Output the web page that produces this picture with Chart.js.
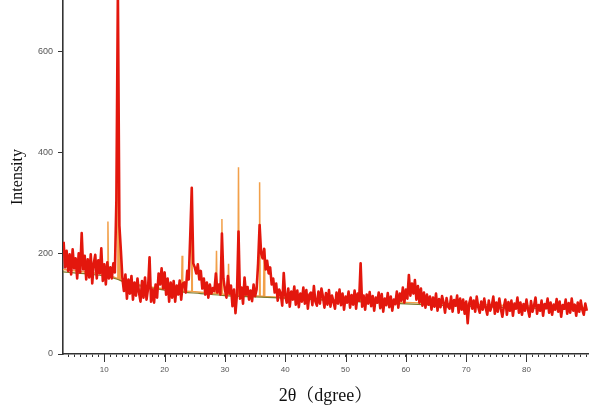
<!DOCTYPE html>
<html lang="en">
<head>
    <meta charset="UTF-8">
    <title>XRD</title>
    <style>
        body { margin: 0; background: #fff; }
        #xrd { display: block; }
    </style>
</head>
<body>
    <canvas id="xrd" width="600" height="411"></canvas>
    <script src="https://cdn.jsdelivr.net/npm/chart.js"></script>
    <script>
        // scan: 2theta from 3.25 in 0.25 steps, one row per degree
        const scanStart = 3.25
        const scanStep = 0.25
        const observed = [
            223, 172, 205, 165,   // 3
            198, 158, 208, 170,   // 4
            190, 150, 200, 162,   // 5
            240, 168, 195, 148,   // 6
            188, 152, 198, 140,   // 7
            180, 197, 150, 186,   // 8
            160, 210, 145, 178,   // 9
            138, 182, 150, 172,   // 10
            150, 180, 162, 306,   // 11
            720, 255, 205, 150,   // 12
            125, 158, 110, 148,   // 13
            120, 155, 108, 142,   // 14
            116, 150, 122, 104,   // 15
            145, 112, 152, 108,   // 16
            130, 192, 104, 128,   // 17
            102, 138, 112, 160,   // 18
            138, 170, 130, 162,   // 19
            118, 150, 104, 142,   // 20
            112, 145, 104, 136,   // 21
            118, 146, 108, 140,   // 22
            142, 122, 165, 148,   // 23
            235, 330, 180, 172,   // 24
            160, 178, 148, 165,   // 25
            130, 150, 118, 142,   // 26
            112, 138, 120, 131,   // 27
            125, 160, 122, 138,   // 28
            118, 239, 150, 128,   // 29
            112, 155, 120, 136,   // 30
            95, 128, 81, 120,     // 31
            243, 110, 132, 100,   // 32
            152, 118, 133, 108,   // 33
            126, 105, 138, 115,   // 34
            128, 180, 256, 200,   // 35
            190, 209, 168, 185,   // 36
            160, 172, 138, 150,   // 37
            122, 140, 106, 128,   // 38
            120, 96, 161, 116,    // 39
            102, 130, 94, 124,    // 40
            108, 134, 98, 126,    // 41
            93, 120, 104, 132,    // 42
            100, 127, 90, 118,    // 43
            122, 97, 135, 104,    // 44
            96, 124, 100, 130,    // 45
            114, 92, 121, 98,     // 46
            127, 94, 116, 104,    // 47
            90, 122, 100, 128,    // 48
            97, 120, 88, 114,     // 49
            102, 124, 92, 117,    // 50
            98, 126, 90, 120,     // 51
            106, 180, 94, 116,    // 52
            88, 118, 100, 123,    // 53
            95, 115, 86, 112,     // 54
            102, 122, 91, 119,    // 55
            84, 110, 97, 121,     // 56
            93, 114, 86, 108,     // 57
            99, 124, 92, 120,     // 58
            106, 132, 102, 128,   // 59
            110, 157, 116, 140,   // 60
            120, 147, 108, 135,   // 61
            102, 130, 96, 122,    // 62
            92, 118, 98, 114,     // 63
            88, 112, 94, 120,     // 64
            86, 109, 93, 115,     // 65
            102, 82, 111, 94,     // 66
            90, 114, 84, 107,     // 67
            96, 116, 82, 110,     // 68
            88, 108, 80, 104,     // 69
            61, 100, 112, 90,     // 70
            106, 84, 114, 93,     // 71
            82, 104, 88, 110,     // 72
            91, 78, 106, 86,      // 73
            96, 114, 80, 102,     // 74
            84, 110, 90, 74,      // 75
            94, 108, 78, 103,     // 76
            86, 106, 76, 100,     // 77
            90, 112, 82, 102,     // 78
            78, 99, 86, 108,      // 79
            88, 74, 105, 84,      // 80
            96, 112, 80, 97,      // 81
            86, 106, 76, 99,      // 82
            91, 110, 82, 102,     // 83
            78, 98, 88, 109,      // 84
            84, 104, 74, 97,      // 85
            90, 108, 80, 101,     // 86
            82, 110, 86, 98,      // 87
            76, 102, 84, 106,     // 88
            88, 78, 100, 86       // 89
        ]

        // calculated pattern (orange): background plus the reflections
        const calcX = [3.15, 10.5, 10.6, 10.7, 12.15, 12.25, 12.35, 12.45, 12.55, 12.65,
            17.4, 17.5, 17.6, 22.8, 22.9, 23.0, 24.4, 24.5, 24.6, 28.5, 28.6, 28.7,
            29.4, 29.5, 29.6, 30.5, 30.6, 30.7, 32.15, 32.25, 32.35, 35.65, 35.75, 35.85,
            36.4, 36.5, 36.6, 40, 52.4, 52.5, 52.6, 90]
        const calcY = [168, 158, 263, 157, 150, 720, 149, 148, 245, 146,
            133, 192, 133, 125, 195, 125, 124, 330, 124, 120, 205, 120,
            119, 268, 119, 118, 179, 118, 116, 371, 116, 115, 341, 115,
            114, 209, 114, 112, 105, 180, 105, 92]

        // background (olive)
        const bgX = [3.15, 5, 8, 10, 12, 14, 16, 19, 22, 26, 30, 34, 38, 45, 55, 65, 75, 90]
        const bgY = [163, 161, 158, 155, 149, 140, 135, 129, 124, 120, 116, 114, 112, 108, 102, 97, 93, 88]

        const yTicks = [0, 200, 400, 600]
        const xMajor = [10, 20, 30, 40, 50, 60, 70, 80]

        const pts = (xs, ys) => ys.map((y, i) => ({ x: xs[i], y: y }))
        const scanX = observed.map((_, i) => scanStart + i * scanStep)

        const majorTicks = {
            id: 'majorTicks',
            afterDraw(chart) {
                const sx = chart.scales.x
                const c = chart.ctx
                c.save()
                c.strokeStyle = '#333'
                c.lineWidth = 1
                xMajor.forEach(v => {
                    const px = Math.round(sx.getPixelForValue(v)) + 0.5
                    c.beginPath()
                    c.moveTo(px, sx.top)
                    c.lineTo(px, sx.top + 8)
                    c.stroke()
                })
                c.restore()
            }
        }

        const tickFont = { family: "'Liberation Sans', Arial, sans-serif", size: 8 }
        const titleFont = "'Liberation Serif', 'Times New Roman', 'Noto Serif CJK SC', 'Noto Sans CJK SC', serif"

        new Chart(document.getElementById('xrd'), {
            type: 'line',
            data: {
                datasets: [
                    {
                        label: 'obs',
                        data: pts(scanX, observed),
                        borderColor: '#e3170d',
                        borderWidth: 2.6,
                        borderJoinStyle: 'round',
                        pointRadius: 0,
                        tension: 0
                    },
                    {
                        label: 'bg',
                        data: pts(bgX, bgY),
                        borderColor: '#7d7a2a',
                        borderWidth: 1.2,
                        pointRadius: 0,
                        tension: 0.3
                    },
                    {
                        label: 'calc',
                        data: pts(calcX, calcY),
                        borderColor: '#f2a04a',
                        borderWidth: 1.5,
                        pointRadius: 0,
                        tension: 0
                    }
                ]
            },
            options: {
                responsive: false,
                animation: false,
                layout: { padding: { top: 0, right: 12, left: 0, bottom: 0 } },
                plugins: { legend: { display: false }, tooltip: { enabled: false } },
                scales: {
                    x: {
                        type: 'linear',
                        min: 3.15,
                        max: 90.2,
                        afterFit: s => { s.height = 57; s.paddingLeft = 0; s.paddingRight = 0 },
                        border: { color: '#333', width: 1.6 },
                        grid: { drawOnChartArea: false, tickLength: 3, color: '#333' },
                        ticks: {
                            stepSize: 1,
                            maxTicksLimit: 200,
                            autoSkip: false,
                            includeBounds: false,
                            maxRotation: 0,
                            padding: 8,
                            color: '#555',
                            font: tickFont,
                            callback: v => (xMajor.includes(v) ? String(v) : '')
                        },
                        title: {
                            display: true,
                            text: '2θ（dgree）',
                            color: '#111',
                            font: { family: titleFont, size: 18 },
                            padding: { top: 0, bottom: 4 }
                        }
                    },
                    y: {
                        min: 0,
                        max: 703,
                        afterFit: s => { s.width = 63; s.paddingTop = 0; s.paddingBottom = 0 },
                        afterBuildTicks: s => { s.ticks = yTicks.map(v => ({ value: v })) },
                        border: { color: '#333', width: 1.6 },
                        grid: { drawOnChartArea: false, tickLength: 5, color: '#333' },
                        ticks: {
                            padding: 5,
                            color: '#555',
                            font: { family: "'Liberation Sans', Arial, sans-serif", size: 9 }
                        },
                        title: {
                            display: true,
                            text: 'Intensity',
                            color: '#111',
                            font: { family: titleFont, size: 16 },
                            padding: { top: 8, bottom: 0 }
                        }
                    }
                }
            },
            plugins: [majorTicks]
        })
    </script>
</body>
</html>
